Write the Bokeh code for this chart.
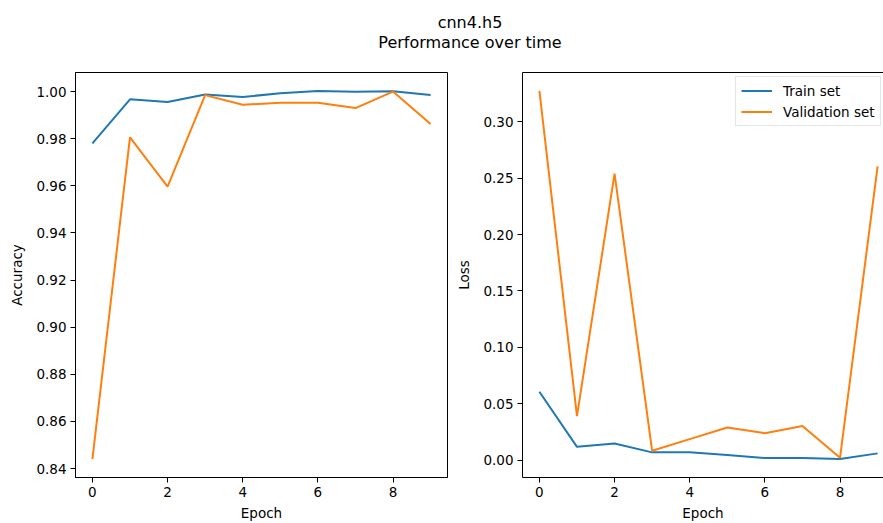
from bokeh.plotting import figure
from bokeh.layouts import column, row
from bokeh.models import Div, FixedTicker, NumeralTickFormatter, Range1d, Legend, LegendItem, LinearAxis
from bokeh.embed import file_html
from bokeh.resources import INLINE

epochs = [0, 1, 2, 3, 4, 5, 6, 7, 8, 9]
train_acc = [0.978, 0.9967, 0.9956, 0.9988, 0.9977, 0.9993, 1.0002, 0.9999, 1.0001, 0.9986]
val_acc = [0.844, 0.9806, 0.9597, 0.9985, 0.9944, 0.9953, 0.9953, 0.9930, 1.0000, 0.9862]
train_loss = [0.0605, 0.0117, 0.0147, 0.0068, 0.0068, 0.0044, 0.0018, 0.0018, 0.0009, 0.0059]
val_loss = [0.3274, 0.0390, 0.2540, 0.0082, 0.0185, 0.0288, 0.0238, 0.0302, 0.0020, 0.2604]
acc_ticks = [0.84, 0.86, 0.88, 0.90, 0.92, 0.94, 0.96, 0.98, 1.00]
loss_ticks = [0.00, 0.05, 0.10, 0.15, 0.20, 0.25, 0.30]
epoch_ticks = [0, 2, 4, 6, 8]

BLUE = "#1f77b4"
ORANGE = "#ff7f0e"
FONT = "DejaVu Sans"
FS = "13.5px"


def style(p, ylabel, yticks):
    p.outline_line_color = "black"
    p.outline_line_width = 1
    p.xgrid.visible = False
    p.ygrid.visible = False
    p.background_fill_color = "white"
    p.border_fill_color = "white"
    for ax in (p.xaxis[0], p.yaxis[0]):
        ax.axis_line_color = "black"
        ax.major_tick_line_color = "black"
        ax.major_tick_out = 5
        ax.major_tick_in = 0
        ax.minor_tick_line_color = None
        ax.major_label_text_font = FONT
        ax.major_label_text_font_size = FS
        ax.major_label_text_color = "black"
        ax.axis_label_text_font = FONT
        ax.axis_label_text_font_size = FS
        ax.axis_label_text_font_style = "normal"
        ax.axis_label_text_color = "black"
        ax.major_label_standoff = 4
    p.xaxis[0].ticker = FixedTicker(ticks=epoch_ticks)
    p.yaxis[0].ticker = FixedTicker(ticks=yticks)
    p.yaxis[0].formatter = NumeralTickFormatter(format="0.00")
    p.xaxis[0].axis_label = "Epoch"
    p.yaxis[0].axis_label = ylabel
    p.xaxis[0].axis_label_standoff = 5
    p.yaxis[0].axis_label_standoff = 8


p1 = figure(width=450, height=463, output_backend="svg", toolbar_location=None,
            x_range=Range1d(-0.45, 9.45), y_range=Range1d(0.8362, 1.0081),
            min_border_left=75, min_border_right=3, min_border_top=12, min_border_bottom=44)
p1.line(epochs, train_acc, line_color=BLUE, line_width=2)
p1.line(epochs, val_acc, line_color=ORANGE, line_width=2)
style(p1, "Accuracy", acc_ticks)

p2 = figure(width=433, height=463, output_backend="svg", toolbar_location=None,
            x_range=Range1d(-0.45, 9.157), y_range=Range1d(-0.0155, 0.3437),
            min_border_left=72, min_border_right=0, min_border_top=12, min_border_bottom=44)
r1 = p2.line(epochs, train_loss, line_color=BLUE, line_width=2)
r2 = p2.line(epochs, val_loss, line_color=ORANGE, line_width=2)
style(p2, "Loss", loss_ticks)
# the reference is cropped at its right edge: no right border, keep the top one
p2.outline_line_color = None
top = LinearAxis(ticker=FixedTicker(ticks=[]), major_label_text_font_size="0px",
                 axis_line_color="black", major_tick_line_color=None, minor_tick_line_color=None)
p2.add_layout(top, "above")
p2.min_border_top = 12

legend = Legend(items=[LegendItem(label="Train set", renderers=[r1]),
                       LegendItem(label="Validation set", renderers=[r2])],
                location=(213, 351))
legend.label_text_font = FONT
legend.label_text_font_size = FS
legend.label_text_color = "black"
legend.glyph_width = 31
legend.glyph_height = 17
legend.label_height = 17
legend.spacing = 4
legend.padding = 5
legend.margin = 0
legend.label_standoff = 11
legend.border_line_color = "#cccccc"
legend.border_line_width = 1
legend.background_fill_alpha = 0.8
p2.add_layout(legend, "center")

title = Div(text="cnn4.h5<br>Performance over time", width=883, height=60,
            styles={"text-align": "center", "font-family": FONT, "font-size": "16px",
                    "line-height": "20px", "padding-top": "13px", "color": "black",
                    "width": "940px", "margin": "0"})

layout = column(title, row(p1, p2, spacing=0), spacing=0)
open("out.html", "w").write(file_html(layout, INLINE))
